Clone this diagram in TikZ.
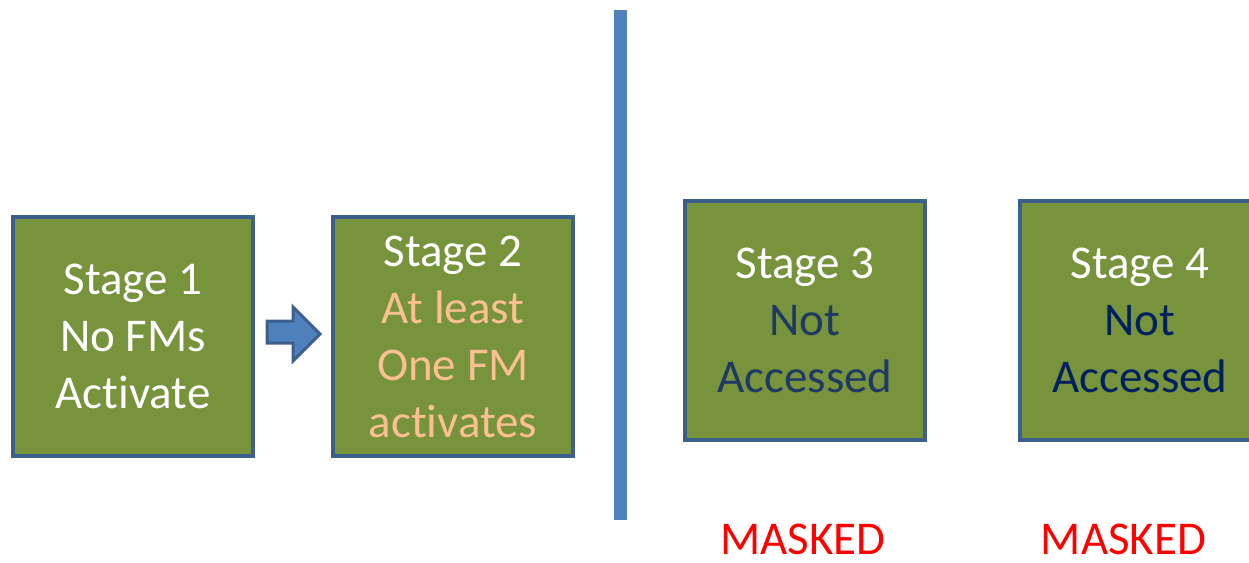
\documentclass[tikz,border=0pt]{standalone}
\usepackage{fontspec}
\setmainfont[Ligatures=NoCommon]{Carlito}
\definecolor{boxgreen}{HTML}{77933C}
\definecolor{boxblue}{HTML}{3D5F8E}
\definecolor{linkblue}{HTML}{4F81BD}
\definecolor{peach}{HTML}{FAC090}
\definecolor{slateblue}{HTML}{1F3864}
\definecolor{navy}{HTML}{002060}
\tikzset{stagebox/.style={draw=boxblue,fill=boxgreen,line width=4.5pt,
    minimum width=240pt,minimum height=239pt,align=center,text=white,
    font=\fontsize{47}{57}\selectfont,inner sep=0pt},
    masklabel/.style={text=red,font=\fontsize{47}{57}\selectfont,anchor=base,inner sep=0pt}}
\begin{document}
\begin{tikzpicture}[x=1pt,y=-1pt]
            \useasboundingbox (0,0) rectangle (1249,562);
            \clip (0,0) rectangle (1249,562);
            \def\arrowpath{(267,321) -- (293,321) -- (293,307) -- (320,334) -- (293,361) -- (293,343) -- (267,343) -- cycle}
            \node [stagebox] (s1) at (133,336.5) {Stage 1\\No FMs\\Activate};
            \node [stagebox] (s2) at (453,336.5) {Stage 2\\\textcolor{peach}{At least}\\\textcolor{peach}{One FM}\\\textcolor{peach}{activates}};
            \node [stagebox] (s3) at (805,320.5) {Stage 3\\\textcolor{slateblue}{Not}\\\textcolor{slateblue}{Accessed}};
            \node [stagebox] (s4) at (1140,320.5) {Stage 4\\\textcolor{navy}{Not}\\\textcolor{navy}{Accessed}};
            \draw [fill=linkblue,draw=boxblue,line width=3pt,line join=miter]\arrowpath;
            \fill [linkblue] (614,10) rectangle (627,520);
            \node [masklabel] (m3) at (803,554) {MASKED};
            \node [masklabel] (m4) at (1123.5,554) {MASKED};
        \end{tikzpicture}
\end{document}
